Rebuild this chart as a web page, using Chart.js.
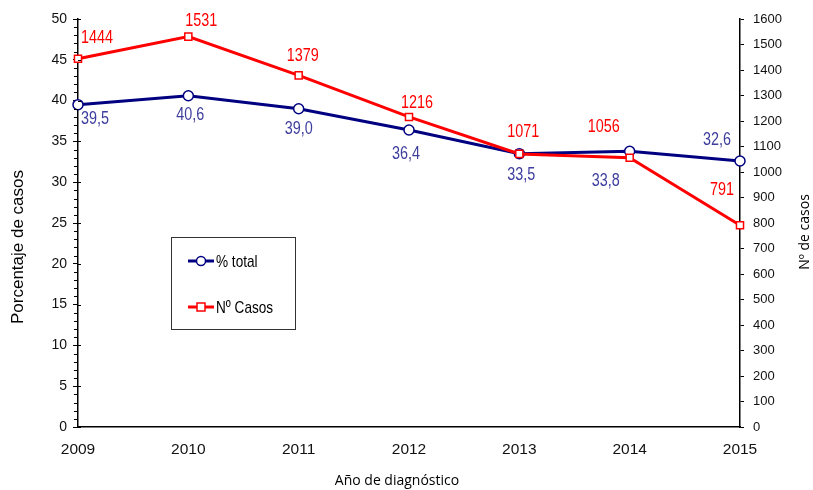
<!DOCTYPE html>
<html>
<head>
<meta charset="utf-8">
<script src="https://cdn.jsdelivr.net/npm/chart.js@4.4.1/dist/chart.umd.min.js"></script>
<style>
  html, body { margin: 0; padding: 0; background: #ffffff; }
  #wrap { width: 813px; height: 490px; }
</style>
</head>
<body>
<div id="wrap"><canvas id="casosChart" width="813" height="490"></canvas></div>
<script>
// Data
const years = ['2009', '2010', '2011', '2012', '2013', '2014', '2015'];
const pctTotal = [39.5, 40.6, 39.0, 36.4, 33.5, 33.8, 32.6];
const numCasos = [1444, 1531, 1379, 1216, 1071, 1056, 791];

const seriesNames = ['% total', 'Nº Casos'];

// label placement relative to each point (style only)
const pctLabelOffsets = [[17, 14], [2, 19], [0, 20], [-3, 24], [2, 21], [-24, 30], [-23, -21]];
const casosLabelOffsets = [[19, -21], [13, -16], [4, -19], [8, -14], [4, -22], [-26, -31], [-18, -35]];

const NAVY = '#000080';
const RED = '#ff0000';
const LABEL_BLUE = '#3d3d9e';
const ARIAL = "'Liberation Sans', Arial, sans-serif";
const OPEN = "'Open Sans', 'Noto Sans', sans-serif";

const fmtPct = v => v.toFixed(1).replace('.', ',');

// the reference text is a condensed face; squeeze Liberation Sans to match
function narrowText(ctx, text, x, y, size, align) {
  ctx.save();
  ctx.translate(x, y);
  ctx.scale(0.8, 1);
  ctx.font = size + 'px ' + ARIAL;
  ctx.textAlign = align || 'center';
  ctx.textBaseline = 'middle';
  ctx.fillText(text, 0, 0);
  ctx.restore();
}

const decorations = {
  id: 'decorations',
  afterDatasetsDraw(chart) {
    const { ctx, chartArea, scales } = chart;
    const yL = scales.yPct;
    ctx.save();

    // minor ticks on the left axis + inner half of major ticks
    ctx.strokeStyle = '#000';
    ctx.lineWidth = 1;
    for (let v = 0; v <= 50; v++) {
      const y = Math.round(yL.getPixelForValue(v)) + 0.5;
      ctx.beginPath();
      if (v % 5 === 0) {
        ctx.moveTo(chartArea.left, y);
        ctx.lineTo(chartArea.left + 3, y);
      } else {
        ctx.moveTo(chartArea.left - 4, y);
        ctx.lineTo(chartArea.left, y);
      }
      ctx.stroke();
    }

    // data labels
    const pctMeta = chart.getDatasetMeta(0);
    const casosMeta = chart.getDatasetMeta(1);
    ctx.fillStyle = LABEL_BLUE;
    pctMeta.data.forEach((pt, i) => {
      const [dx, dy] = pctLabelOffsets[i];
      narrowText(ctx, fmtPct(pctTotal[i]), pt.x + dx, pt.y + dy, 18);
    });
    ctx.fillStyle = RED;
    casosMeta.data.forEach((pt, i) => {
      const [dx, dy] = casosLabelOffsets[i];
      narrowText(ctx, String(numCasos[i]), pt.x + dx, pt.y + dy, 18);
    });

    // axis titles
    ctx.fillStyle = '#000';
    ctx.textAlign = 'center';
    ctx.textBaseline = 'middle';
    ctx.save();
    ctx.translate(18, 247);
    ctx.rotate(-Math.PI / 2);
    ctx.font = '17px ' + ARIAL;
    ctx.fillText('Porcentaje de casos', 0, 0);
    ctx.restore();

    ctx.save();
    ctx.translate(805, 232);
    ctx.rotate(-Math.PI / 2);
    ctx.font = '14px ' + OPEN;
    ctx.fillText('Nº de casos', 0, 0);
    ctx.restore();

    ctx.font = '14px ' + OPEN;
    ctx.fillText('Año de diagnóstico', 397, 481);

    // legend box
    ctx.strokeStyle = '#333';
    ctx.lineWidth = 1;
    ctx.strokeRect(171.5, 237.5, 124, 92);
    const rows = [
      { y: 261, color: NAVY, shape: 'circle' },
      { y: 307, color: RED, shape: 'square' }
    ];
    rows.forEach((r, i) => {
      ctx.strokeStyle = r.color;
      ctx.lineWidth = 3;
      ctx.beginPath();
      ctx.moveTo(188, r.y);
      ctx.lineTo(214, r.y);
      ctx.stroke();
      ctx.fillStyle = '#fff';
      ctx.lineWidth = 1.5;
      ctx.beginPath();
      if (r.shape === 'circle') ctx.arc(201, r.y, 4.5, 0, Math.PI * 2);
      else ctx.rect(197, r.y - 4, 8, 8);
      ctx.fill();
      ctx.stroke();
      ctx.fillStyle = '#000';
      narrowText(ctx, seriesNames[i], 216, r.y + 1, 17, 'left');
    });

    ctx.restore();
  }
};

new Chart(document.getElementById('casosChart'), {
  type: 'line',
  data: {
    labels: years,
    datasets: [
      {
        label: seriesNames[0],
        data: pctTotal,
        yAxisID: 'yPct',
        borderColor: NAVY,
        borderWidth: 3,
        pointStyle: 'circle',
        pointRadius: 5,
        pointBorderWidth: 1.5,
        pointBackgroundColor: '#ffffff',
        pointBorderColor: NAVY,
        tension: 0,
        order: 2
      },
      {
        label: seriesNames[1],
        data: numCasos,
        yAxisID: 'yCasos',
        borderColor: RED,
        borderWidth: 3,
        pointStyle: 'rect',
        pointRadius: 5,
        pointBorderWidth: 1.5,
        pointBackgroundColor: '#ffffff',
        pointBorderColor: RED,
        tension: 0,
        order: 1
      }
    ]
  },
  options: {
    responsive: false,
    animation: false,
    layout: { padding: { top: 19, left: 0, right: 0, bottom: 0 } },
    plugins: {
      legend: { display: false },
      tooltip: { enabled: false }
    },
    scales: {
      x: {
        offset: false,
        grid: { display: false, drawOnChartArea: false, drawTicks: true, tickLength: 4, offset: false, color: '#000' },
        border: { display: true, color: '#000', width: 1.5 },
        ticks: { color: '#111', font: { family: ARIAL, size: 15.5 }, padding: 9, maxRotation: 0, autoSkip: false },
        afterFit(scale) {
          scale.height = 63;
          scale.paddingLeft = 0;
          scale.paddingRight = 0;
        }
      },
      yPct: {
        position: 'left',
        min: 0,
        max: 50,
        grid: { drawOnChartArea: false, tickLength: 5, color: '#000' },
        border: { display: true, color: '#000', width: 1.5 },
        ticks: { stepSize: 5, color: '#111', font: { family: ARIAL, size: 14 }, padding: 6 },
        afterFit(scale) {
          scale.width = 78;
          scale.paddingTop = 0;
          scale.paddingBottom = 0;
        }
      },
      yCasos: {
        position: 'right',
        min: 0,
        max: 1600,
        grid: { drawOnChartArea: false, tickLength: 4, color: '#000' },
        border: { display: true, color: '#000', width: 1.5 },
        ticks: { stepSize: 100, color: '#111', font: { family: ARIAL, size: 13 }, padding: 9, callback: v => String(v) },
        afterFit(scale) {
          scale.width = 73;
          scale.paddingTop = 0;
          scale.paddingBottom = 0;
        }
      }
    }
  },
  plugins: [decorations]
});
</script>
</body>
</html>
